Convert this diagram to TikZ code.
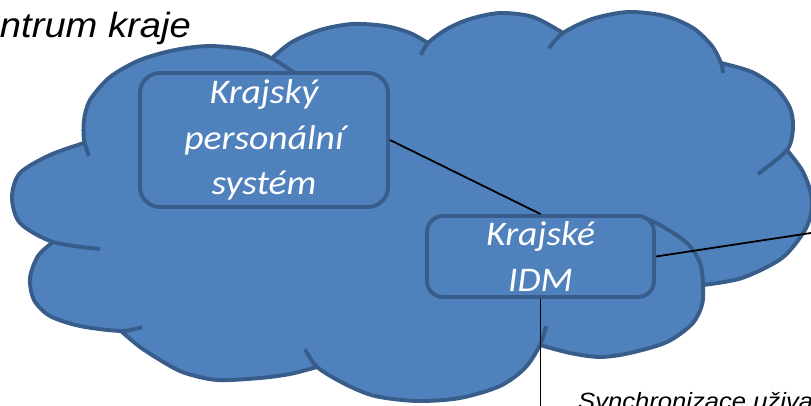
\documentclass[tikz,border=0pt]{standalone}
\usepackage{fontspec}
\setmainfont{Carlito}[FakeStretch=1.09]
\newfontfamily\arialfont{Liberation Sans}[FakeStretch=1.09]
\definecolor{cloudfill}{RGB}{79,129,189}
\definecolor{cloudline}{RGB}{56,93,138}
\begin{document}
\begin{tikzpicture}[x=1pt,y=-1pt,
  lobe/.style={draw=cloudline, line width=3.9pt, line join=round},
  box/.style={draw=cloudline, fill=cloudfill, line width=3.9pt, inner sep=0pt,
    align=center, text=white, font=\fontsize{34.5}{45.5}\selectfont\itshape},
  link/.style={draw=black, line width=1.8pt},
  label/.style={inner sep=0pt, text=black}]
\useasboundingbox (0,0) rectangle (811,405);
\clip (0,0) rectangle (811,405);
% cloud body
\fill[cloudfill]
 plot[smooth] coordinates {(84,143) (84,120) (90,100) (110,77) (140,60) (175,50) (210,46) (250,50) (272,58)}
 -- plot[smooth] coordinates {(272,58) (292,42) (320,30) (352,24) (385,26) (410,33) (428,43)}
 -- plot[smooth] coordinates {(428,43) (447,29) (470,19) (500,13) (533,17) (563,33)}
 -- plot[smooth] coordinates {(563,33) (592,19) (628,12) (665,16) (693,28) (712,46) (721,63)}
 -- plot[smooth] coordinates {(721,63) (752,72) (776,88) (790,108) (793,128) (787,150)}
 -- plot[smooth] coordinates {(787,150) (802,170) (810,190) (812,208) (805,230) (782,258) (742,278) (703,285)}
 -- plot[smooth] coordinates {(703,285) (702,305) (692,324) (667,342) (630,353) (600,357) (570,353) (540,345)}
 -- plot[smooth] coordinates {(540,345) (525,368) (500,386) (460,398) (417,401) (375,396) (345,384) (317,367)}
 -- plot[smooth] coordinates {(317,367) (290,374) (260,378) (217,380) (185,373) (165,363) (140,347) (121,331)}
 -- plot[smooth] coordinates {(121,331) (80,326) (50,316) (34,300) (30,278) (38,256) (53,242)}
 -- plot[smooth] coordinates {(53,242) (20,223) (12,197) (20,173) (50,155) (84,143)}
 -- cycle;
% cloud outline with inner hooks
\draw[lobe] plot[smooth] coordinates {(89,156) (84,140) (84,120) (90,100) (110,77) (140,60) (175,50) (210,46) (250,50) (275,60) (297,75)};
\draw[lobe] plot[smooth] coordinates {(272,58) (292,42) (320,30) (352,24) (385,26) (410,33) (428,43)};
\draw[lobe] plot[smooth] coordinates {(421,55) (428,43) (447,29) (470,19) (500,13) (533,17) (563,33)};
\draw[lobe] plot[smooth] coordinates {(549,48) (563,33) (592,19) (628,12) (665,16) (693,28) (712,46) (721,63) (723,73)};
\draw[lobe] plot[smooth] coordinates {(721,63) (752,72) (776,88) (790,108) (793,128) (787,150) (758,174)};
\draw[lobe] plot[smooth] coordinates {(787,150) (802,170) (810,190) (812,208) (805,230) (782,258) (742,278) (703,285)};
\draw[lobe] plot[smooth] coordinates {(640,216) (660,225) (687,243) (700,263) (703,285) (702,305) (692,324) (667,342) (630,353) (600,357) (570,353) (540,345)};
\draw[lobe] plot[smooth] coordinates {(546,326) (540,345) (525,368) (500,386) (460,398) (417,401) (375,396) (345,384) (317,367) (305,349)};
\draw[lobe] plot[smooth] coordinates {(317,367) (290,374) (260,378) (217,380) (185,373) (165,363) (140,347) (121,331)};
\draw[lobe] plot[smooth] coordinates {(53,242) (38,256) (30,278) (34,300) (50,316) (80,326) (121,331) (142,327)};
\draw[lobe] plot[smooth] coordinates {(84,143) (50,155) (20,173) (12,197) (20,223) (53,242) (100,249)};
% boxes
\node[box, minimum width=248pt, minimum height=134pt, rounded corners=20pt] (kps) at (264,140) {Krajský\\personální\\systém};
\node[box, minimum width=227pt, minimum height=81pt, rounded corners=16pt] (idm) at (540.5,256.5) {Krajské\\IDM};
% connectors
\coordinate (re) at (822,231.3);
\coordinate (bot) at (540.5,412);
\draw[link] (kps.east) -- (idm.north);
\draw[link] (idm.east) -- (re);
\draw[link] (idm.south) -- (bot);
% texts
\node[label, anchor=base east, font=\arialfont\itshape\fontsize{35}{40}\selectfont] (title) at (191,37) {Centrum kraje};
\node[label, anchor=base west, font=\arialfont\itshape\fontsize{23.5}{28}\selectfont] (sync) at (578,409.5) {Synchronizace uživatelů};
\end{tikzpicture}
\end{document}
